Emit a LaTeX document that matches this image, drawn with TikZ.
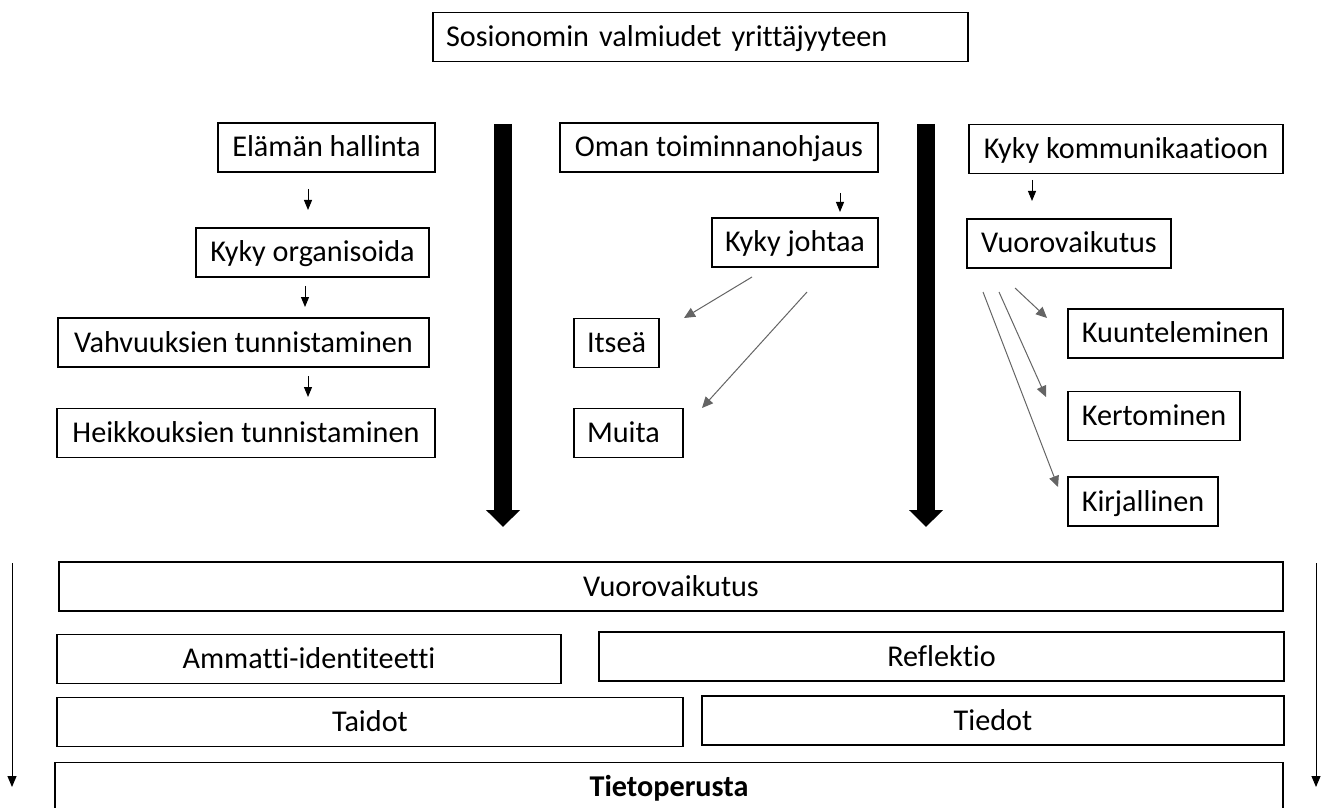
\documentclass[tikz,border=0pt]{standalone}
\usepackage{fontspec}
\setmainfont{Carlito}[Ligatures=NoCommon]
\usetikzlibrary{arrows.meta}
\tikzset{>=latex}
\definecolor{arrgray}{RGB}{100, 100, 100}

\begin{document}
\begin{tikzpicture}[x=0.5pt, y=-0.5pt,
  box/.style={draw, line width=0.6pt, font=\fontsize{15.1}{18}\selectfont,
    minimum height=24.5pt, inner ysep=0pt, inner xsep=6.5pt,
    text height=12.5pt, text depth=3pt},
  lbox/.style={box, text width=#1, align=left},
  smallarr/.style={line width=0.5pt, -{Triangle[width=4pt, length=5pt]}},
  grayarr/.style={draw=arrgray, line width=0.5pt, -{Triangle[width=5pt, length=5.5pt]}},
  sidearr/.style={line width=0.5pt, -{Triangle[width=4.5pt, length=5.5pt]}},
  bigarr/.style={line width=9pt, -{Triangle[width=16.5pt, length=8.5pt]}}]
\useasboundingbox (0,0) rectangle (1325,807);
\clip (0,0) rectangle (1325,807);

% otsikko
\node[lbox=254.5pt] (title) at (700.5,37) {Sosionomin valmiudet yrittäjyyteen};

% vasen sarake
\node[box, minimum width=108.5pt] (elama) at (326.5,147.5) {Elämän hallinta};
\node[box, minimum width=116.5pt] (organ) at (312.5,252.5) {Kyky organisoida};
\node[box, minimum width=185.5pt] (vahv) at (243.5,342.5) {Vahvuuksien tunnistaminen};
\node[box, minimum width=189pt] (heikk) at (246,433) {Heikkouksien tunnistaminen};
\coordinate (a1s) at (308,189); \coordinate (a1e) at (308,210);
\coordinate (a2s) at (305,286); \coordinate (a2e) at (305,307);
\coordinate (a3s) at (308,376); \coordinate (a3e) at (308,397);
\draw[smallarr] (a1s) -- (a1e);
\draw[smallarr] (a2s) -- (a2e);
\draw[smallarr] (a3s) -- (a3e);

% keskimmainen sarake
\node[box, minimum width=159pt] (oman) at (719,147.5) {Oman toiminnanohjaus};
\node[box, minimum width=83pt] (johtaa) at (795,242.5) {Kyky johtaa};
\node[lbox=29.5pt] (itsea) at (616.5,343) {Itseä};
\node[lbox=41.5pt] (muita) at (628.5,433) {Muita};
\coordinate (a4s) at (840,193); \coordinate (a4e) at (840,212);
\draw[smallarr] (a4s) -- (a4e);
\coordinate (g1s) at (752,277); \coordinate (g1e) at (684,318);
\coordinate (g2s) at (807,292); \coordinate (g2e) at (702,408);
\draw[grayarr] (g1s) -- (g1e);
\draw[grayarr] (g2s) -- (g2e);

% oikea sarake
\node[box, minimum width=157pt] (kommu) at (1126,149) {Kyky kommunikaatioon};
\node[box, minimum width=102pt] (vuoro) at (1069,243.5) {Vuorovaikutus};
\node[box, minimum width=107.5pt] (kuunt) at (1175.5,333.5) {Kuunteleminen};
\node[box, minimum width=86pt] (kert) at (1154,416) {Kertominen};
\node[box, minimum width=75pt] (kirj) at (1143,501.5) {Kirjallinen};
\coordinate (a5s) at (1032,180); \coordinate (a5e) at (1032,201);
\draw[smallarr] (a5s) -- (a5e);
\coordinate (g3s) at (1015,288); \coordinate (g3e) at (1047,318);
\coordinate (g4s) at (999,292); \coordinate (g4e) at (1046,397);
\coordinate (g5s) at (983,292); \coordinate (g5e) at (1058,487);
\draw[grayarr] (g3s) -- (g3e);
\draw[grayarr] (g4s) -- (g4e);
\draw[grayarr] (g5s) -- (g5e);

% paksut nuolet
\coordinate (b1s) at (503,124); \coordinate (b1e) at (503,527);
\coordinate (b2s) at (926,124); \coordinate (b2e) at (926,527);
\draw[bigarr] (b1s) -- (b1e);
\draw[bigarr] (b2s) -- (b2e);

% alaosa
\node[box, minimum width=612pt] (vuoroB) at (671,586.5) {Vuorovaikutus};
\node[box, minimum width=252pt] (ammatti) at (309,659) {Ammatti-identiteetti};
\node[box, minimum width=342.5pt] (refl) at (941.5,656.5) {Reflektio};
\node[box, minimum width=313pt] (taidot) at (370,722) {Taidot};
\node[box, minimum width=291pt] (tiedot) at (993,720.5) {Tiedot};
\node[box, minimum width=614pt, font=\fontsize{15.1}{18}\selectfont\bfseries] (tieto) at (669,787) {Tietoperusta};
\coordinate (s1s) at (12,563); \coordinate (s1e) at (12,787);
\coordinate (s2s) at (1316,563); \coordinate (s2e) at (1316,787);
\draw[sidearr] (s1s) -- (s1e);
\draw[sidearr] (s2s) -- (s2e);
\end{tikzpicture}
\end{document}
